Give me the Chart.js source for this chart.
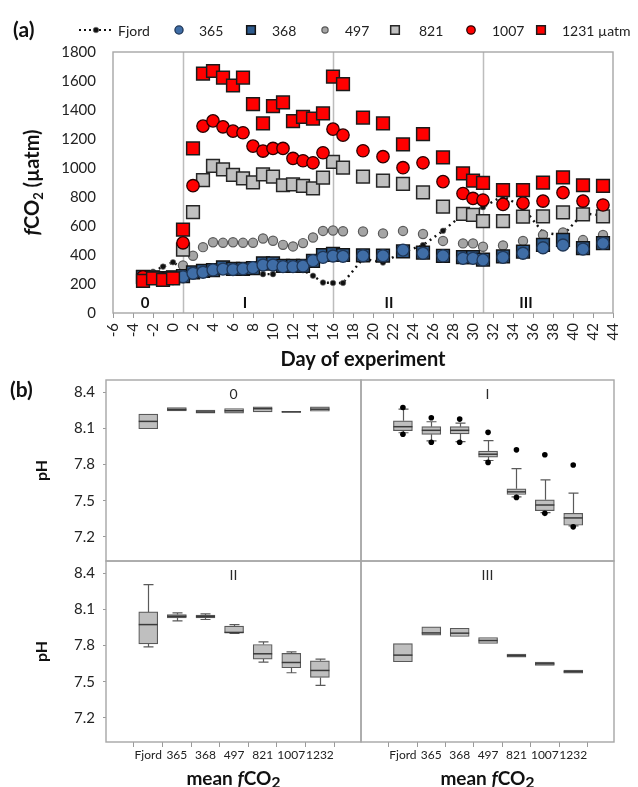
<!DOCTYPE html>
<html>
<head>
<meta charset="utf-8">
<script src="https://cdn.jsdelivr.net/npm/chart.js@4.4.1/dist/chart.umd.min.js"></script>
<style>
  html, body { margin: 0; padding: 0; background: #fff; }
  #wrap { position: relative; width: 638px; height: 787px; overflow: hidden; }
  canvas { position: absolute; }
</style>
</head>
<body>
<div id="wrap">
  <canvas id="box-0" width="371" height="201" style="left:0;top:370px"></canvas>
  <canvas id="box-1" width="273" height="201" style="left:351px;top:370px"></canvas>
  <canvas id="box-2" width="371" height="236" style="left:0;top:551px"></canvas>
  <canvas id="box-3" width="273" height="236" style="left:351px;top:551px"></canvas>
  <canvas id="chart-a" width="638" height="380" style="left:0;top:0"></canvas>
</div>
<script>
// ---- panel (a): fCO2 over time ----
const days = [-3,-2,-1,0,1,2,3,4,5,6,7,8,9,10,11,12,13,14,15,16,17,19,21,23,25,27,29,30,31,33,35,37,39,41,43];
const fco2_365  = [245,240,235,240, 250,274,281,297,303,300,305,313,331,331,320,320,324,361,384,393,391, 395,395,434,412,394,377,377,366,384,412,450,469,441,481];
const fco2_368  = [250,245,240,245, 255,280,290,295,315,305,305,310,343,343,325,325,325,360,400,407,400, 398,395,425,417,394,385,385,368,390,424,470,505,447,482];
const fco2_497  = [255,265,250,245, 328,395,454,488,484,488,484,484,514,498,470,459,482,521,566,569,564, 562,549,566,545,497,480,480,457,466,497,538,556,503,538];
const fco2_821  = [248,242,238,242, 437,695,917,1014,991,952,929,901,956,940,881,887,876,860,933,1043,1002, 940,913,890,832,733,683,676,634,634,664,667,694,680,667];
const fco2_1007 = [250,240,235,238, 484,878,1289,1325,1284,1254,1243,1151,1117,1135,1135,1066,1050,1036,1105,1268,1227, 1119,1078,1002,1036,906,824,790,779,749,758,772,830,772,745];
const fco2_1231 = [221,239,228,239, 575,1135,1651,1669,1624,1569,1624,1440,1307,1426,1452,1323,1353,1341,1376,1630,1578, 1348,1307,1163,1234,1073,963,913,897,848,848,899,936,881,876];
const fjordDays = [-3,-2,-1,0,1,2,3,4,5,6,7,8,9,10,11,12,13,14,15,16,17,19,21,23,25,27,29,31,33,35,37,39,41,43];
const fjordFco2 = [245,285,320,350,305,300,300,300,305,305,310,310,268,268,320,320,295,257,210,207,207,375,348,420,468,567,680,730,807,728,555,535,688,672];

const legendLabels = ['Fjord', '365', '368', '497', '821', '1007', '1231 µatm'];
const phaseStarts = [1, 16, 31];
const phaseNames = ['0', 'I', 'II', 'III'];
const phaseNameDays = [-2.8, 7.2, 21.6, 35.3];

// ---- panel (b): pH box plots, rows = [min, q1, median, q3, max] ----
const pHCategories = ['Fjord', '365', '368', '497', '821', '1007', '1232'];
const pHTicks = [7.2, 7.5, 7.8, 8.1, 8.4];
const pH_0 = [
  [8.096, 8.096, 8.157, 8.217, 8.217], [8.244, 8.244, 8.255, 8.272, 8.272], [8.225, 8.225, 8.235, 8.250, 8.250],
  [8.225, 8.225, 8.245, 8.264, 8.264], [8.236, 8.236, 8.262, 8.277, 8.277], [8.232, 8.232, 8.236, 8.240, 8.240],
  [8.241, 8.241, 8.258, 8.277, 8.277]
];
const pH_I = [
  [8.063, 8.080, 8.113, 8.162, 8.258], [7.995, 8.050, 8.083, 8.113, 8.154], [7.990, 8.053, 8.083, 8.113, 8.143],
  [7.833, 7.861, 7.885, 7.910, 7.998], [7.532, 7.551, 7.573, 7.598, 7.765], [7.401, 7.417, 7.464, 7.507, 7.672],
  [7.291, 7.296, 7.357, 7.395, 7.562]
];
const pH_I_out = [[8.272, 8.050], [8.187, 7.984], [8.176, 7.984], [8.066, 7.817], [7.921, 7.527], [7.880, 7.395], [7.795, 7.283]];
const pH_II = [
  [7.789, 7.813, 7.973, 8.078, 8.304], [8.004, 8.028, 8.042, 8.056, 8.070], [8.015, 8.028, 8.040, 8.051, 8.062],
  [7.899, 7.905, 7.908, 7.960, 7.973], [7.662, 7.687, 7.731, 7.808, 7.830], [7.574, 7.615, 7.659, 7.734, 7.747],
  [7.469, 7.535, 7.593, 7.673, 7.687]
];
const pH_III = [
  [7.665, 7.665, 7.720, 7.816, 7.816], [7.885, 7.885, 7.904, 7.954, 7.954], [7.874, 7.874, 7.902, 7.943, 7.943],
  [7.816, 7.816, 7.841, 7.866, 7.866], [7.703, 7.703, 7.715, 7.728, 7.728], [7.634, 7.634, 7.648, 7.662, 7.662],
  [7.571, 7.571, 7.583, 7.596, 7.596]
];

const FONT = 'Lato';
const toXY = (xs, ys) => xs.map((x, i) => ({ x: x, y: ys[i] }));

// draw a line of mixed-font text centred on (cx, cy), optionally rotated
function drawRich(ctx, parts, cx, cy, rotate, base) {
  ctx.save();
  ctx.translate(cx, cy);
  if (rotate) ctx.rotate(-Math.PI / 2);
  ctx.textAlign = 'left';
  ctx.textBaseline = 'alphabetic';
  let total = 0;
  parts.forEach(p => { ctx.font = p.font; p.w = ctx.measureText(p.text).width; total += p.w; });
  let x = -total / 2;
  parts.forEach(p => { ctx.font = p.font; ctx.fillText(p.text, x, base + (p.dy || 0)); x += p.w; });
  ctx.restore();
}

function drawMarker(ctx, ds, x, y, scale) {
  const r = ds.pointRadius * scale;
  ctx.fillStyle = ds.pointBackgroundColor;
  ctx.strokeStyle = ds.pointBorderColor;
  ctx.lineWidth = ds.pointBorderWidth;
  ctx.beginPath();
  if (ds.pointStyle === 'rect') {
    const s = r * Math.SQRT1_2;
    ctx.rect(x - s, y - s, 2 * s, 2 * s);
  } else {
    ctx.arc(x, y, r, 0, Math.PI * 2);
  }
  ctx.fill();
  if (ds.pointBorderWidth) ctx.stroke();
}

// keep Chart.js from shrinking the plot area for overhanging tick labels
function fixSize(s, w, h) {
  if (w !== null) s.width = w;
  if (h !== null) s.height = h;
  s.paddingTop = 0; s.paddingBottom = 0; s.paddingLeft = 0; s.paddingRight = 0;
}

const frame = {
  id: 'frame',
  afterDraw(chart, args, o) {
    const { ctx, chartArea: a } = chart;
    ctx.save();
    ctx.strokeStyle = o.color || '#A6A6A6';
    ctx.lineWidth = 1.4;
    ctx.strokeRect(a.left, a.top, a.right - a.left, a.bottom - a.top);
    ctx.restore();
  }
};

const panelA = {
  id: 'panelA',
  beforeDatasetsDraw(chart) {
    const { ctx, chartArea: a, scales: { x, y } } = chart;
    ctx.save();
    ctx.strokeStyle = '#BDBDBD';
    ctx.lineWidth = 1.5;
    phaseStarts.forEach(d => {
      const px = Math.round(x.getPixelForValue(d)) + 0.5;
      ctx.beginPath(); ctx.moveTo(px, a.top); ctx.lineTo(px, a.bottom); ctx.stroke();
    });
    ctx.fillStyle = '#111';
    ctx.font = 'bold 15px ' + FONT;
    ctx.textAlign = 'center';
    ctx.textBaseline = 'middle';
    phaseNames.forEach((t, i) => ctx.fillText(t, x.getPixelForValue(phaseNameDays[i]), y.getPixelForValue(69)));
    ctx.restore();
  },
  afterDraw(chart) {
    const { ctx, chartArea: a } = chart;
    ctx.save();
    ctx.fillStyle = '#111';
    ctx.font = 'bold 21px ' + FONT;
    ctx.textBaseline = 'middle';
    ctx.fillText('(a)', 13, 30);

    // legend
    const markerX = [96, 179, 251, 325, 395, 471, 541];
    const textX = [118, 199, 272, 345, 419, 492, 562];
    const ly = 30;
    chart.data.datasets.forEach((ds, i) => {
      if (ds.showLine) {
        ctx.save();
        ctx.strokeStyle = '#111';
        ctx.lineWidth = 2.2;
        ctx.setLineDash([2, 3]);
        ctx.beginPath(); ctx.moveTo(markerX[i] - 17, ly); ctx.lineTo(markerX[i] + 17, ly); ctx.stroke();
        ctx.restore();
        drawMarker(ctx, ds, markerX[i], ly, 1);
      } else {
        drawMarker(ctx, ds, markerX[i], ly, 0.68);
      }
      ctx.fillStyle = '#222';
      ctx.font = '14px ' + FONT;
      ctx.textAlign = 'left';
      ctx.fillText(legendLabels[i], textX[i], ly + 1);
    });

    // y title: fCO2 (µatm)
    ctx.fillStyle = '#111';
    drawRich(ctx, [
      { text: 'f', font: 'italic bold 20px ' + FONT },
      { text: 'CO', font: 'bold 20px ' + FONT },
      { text: '2', font: 'bold 13px ' + FONT, dy: 4 },
      { text: ' (µatm)', font: 'bold 20px ' + FONT }
    ], 32, (a.top + a.bottom) / 2, true, 7);
    ctx.restore();
  }
};

const series = [
  { data: toXY(fjordDays, fjordFco2), showLine: true, borderColor: '#111', borderWidth: 2.4, borderDash: [2, 4],
    pointStyle: 'circle', pointRadius: 2.8, pointBackgroundColor: '#111', pointBorderColor: '#777', pointBorderWidth: 0.6, order: 7 },
  { data: toXY(days, fco2_365), pointStyle: 'circle', pointRadius: 6, pointBackgroundColor: '#3F6DA6', pointBorderColor: '#1F3656', pointBorderWidth: 1.3, order: 3 },
  { data: toXY(days, fco2_368), pointStyle: 'rect', pointRadius: 9, pointBackgroundColor: '#2E5B8E', pointBorderColor: '#141414', pointBorderWidth: 1.5, order: 4 },
  { data: toXY(days, fco2_497), pointStyle: 'circle', pointRadius: 4.6, pointBackgroundColor: '#A5A5A5', pointBorderColor: '#5A5A5A', pointBorderWidth: 1.2, order: 6 },
  { data: toXY(days, fco2_821), pointStyle: 'rect', pointRadius: 9, pointBackgroundColor: '#C0C0C0', pointBorderColor: '#262626', pointBorderWidth: 1.5, order: 5 },
  { data: toXY(days, fco2_1007), pointStyle: 'circle', pointRadius: 6.2, pointBackgroundColor: '#FF0000', pointBorderColor: '#2A0000', pointBorderWidth: 1.3, order: 2 },
  { data: toXY(days, fco2_1231), pointStyle: 'rect', pointRadius: 9, pointBackgroundColor: '#FF0000', pointBorderColor: '#1A1A1A', pointBorderWidth: 1.5, order: 1 }
];

new Chart(document.getElementById('chart-a'), {
  type: 'scatter',
  data: { datasets: series.map(s => Object.assign({ showLine: false }, s)) },
  options: {
    responsive: false,
    animation: false,
    layout: { padding: { top: 52, right: 25, left: 0, bottom: 0 } },
    plugins: { legend: { display: false }, tooltip: { enabled: false }, frame: { color: '#A6A6A6' } },
    scales: {
      x: {
        type: 'linear', min: -6, max: 44,
        ticks: { stepSize: 2, minRotation: 90, maxRotation: 90, autoSkip: false, padding: 5,
                 font: { family: FONT, size: 15 }, color: '#222', callback: v => String(v) },
        grid: { drawOnChartArea: false, tickLength: 5, color: '#9A9A9A' },
        border: { display: false },
        title: { display: true, text: 'Day of experiment', color: '#111',
                 font: { family: FONT, size: 20, weight: 'bold' }, padding: { top: 0, bottom: 8 } },
        afterFit: s => fixSize(s, null, 67)
      },
      y: {
        min: 0, max: 1800,
        ticks: { stepSize: 200, padding: 17, font: { family: FONT, size: 15 }, color: '#222', callback: v => String(v) },
        grid: { drawOnChartArea: false, drawTicks: false },
        border: { display: false },
        afterFit: s => fixSize(s, 113, null)
      }
    }
  },
  plugins: [panelA, frame]
});

// ---- panel (b) ----
const boxExtras = {
  id: 'boxExtras',
  beforeDatasetsDraw(chart, args, o) {
    const { ctx, scales: { x, y } } = chart;
    ctx.save();
    ctx.strokeStyle = '#5A5A5A';
    ctx.lineWidth = 1.2;
    o.rows.forEach((r, i) => {
      const px = Math.round(x.getPixelForValue(i)) + 0.5;
      [[r[3], r[4]], [r[1], r[0]]].forEach(([from, to]) => {
        if (to === from) return;
        const y0 = y.getPixelForValue(from), y1 = y.getPixelForValue(to);
        ctx.beginPath();
        ctx.moveTo(px, y0); ctx.lineTo(px, y1);
        ctx.moveTo(px - 5, y1); ctx.lineTo(px + 5, y1);
        ctx.stroke();
      });
    });
    ctx.restore();
  },
  afterDatasetsDraw(chart, args, o) {
    const { ctx, scales: { x, y } } = chart;
    ctx.save();
    ctx.strokeStyle = '#3A3A3A';
    ctx.lineWidth = 1.5;
    o.rows.forEach((r, i) => {
      const px = x.getPixelForValue(i);
      const py = y.getPixelForValue(r[2]);
      ctx.beginPath(); ctx.moveTo(px - 9.5, py); ctx.lineTo(px + 9.5, py); ctx.stroke();
    });
    ctx.restore();
  },
  afterDraw(chart, args, o) {
    const { ctx, chartArea: a } = chart;
    ctx.save();
    ctx.fillStyle = '#2A2A2A';
    ctx.font = '14px ' + FONT;
    ctx.textAlign = 'center';
    ctx.textBaseline = 'middle';
    ctx.fillText(o.label, (a.left + a.right) / 2, a.top + 14);
    ctx.fillStyle = '#111';
    if (o.tag) {
      ctx.font = 'bold 21px ' + FONT;
      ctx.textAlign = 'left';
      ctx.fillText(o.tag, 10, a.top + 10);
    }
    if (o.yTitle) {
      drawRich(ctx, [{ text: 'pH', font: 'bold 16px ' + FONT }], 42, (a.top + a.bottom) / 2, true, 5);
    }
    if (o.xTitle) {
      drawRich(ctx, [
        { text: 'mean ', font: 'bold 19px ' + FONT },
        { text: 'f', font: 'italic bold 19px ' + FONT },
        { text: 'CO', font: 'bold 19px ' + FONT },
        { text: '2', font: 'bold 16px ' + FONT, dy: 3 }
      ], (a.left + a.right) / 2, a.bottom + 37, false, 6);
    }
    ctx.restore();
  }
};

function boxChart(id, rows, outliers, o) {
  const outPts = [];
  outliers.forEach((vals, i) => vals.forEach(v => outPts.push({ x: i, y: v })));
  return new Chart(document.getElementById(id), {
    type: 'bar',
    data: {
      datasets: [
        { type: 'bar', data: rows.map((r, i) => ({ x: i, y: [r[1], r[3]] })),
          backgroundColor: '#BFBFBF', borderColor: '#595959', borderWidth: 1.2, borderSkipped: false,
          barThickness: 19, order: 2 },
        { type: 'scatter', data: outPts, pointRadius: 2.8, pointBackgroundColor: '#000', pointBorderWidth: 0, order: 1 }
      ]
    },
    options: {
      responsive: false,
      animation: false,
      layout: { padding: o.padding },
      plugins: {
        legend: { display: false }, tooltip: { enabled: false }, frame: { color: '#A6A6A6' },
        boxExtras: { rows: rows, label: o.label, tag: o.tag, yTitle: o.showY, xTitle: o.showX }
      },
      scales: {
        x: {
          type: 'linear', min: -0.84, max: 6.8, display: o.showX,
          afterBuildTicks: s => { s.ticks = pHCategories.map((c, i) => ({ value: i })); },
          ticks: { autoSkip: false, maxRotation: 0, padding: 1, font: { family: FONT, size: 12 }, color: '#222',
                   callback: v => pHCategories[v] },
          grid: { drawOnChartArea: false, tickLength: 5, color: '#9A9A9A' },
          border: { display: false },
          afterFit: s => fixSize(s, null, o.showX ? 45 : 0)
        },
        y: {
          min: 7.0, max: 8.5, display: o.showY,
          afterBuildTicks: s => { s.ticks = pHTicks.map(v => ({ value: v })); },
          ticks: { padding: 8, font: { family: FONT, size: 15 }, color: '#222', callback: v => v.toFixed(1) },
          grid: { drawOnChartArea: false, tickLength: 3, color: '#9A9A9A' },
          border: { display: false },
          afterFit: s => fixSize(s, o.showY ? 106 : 0, null)
        }
      }
    },
    plugins: [boxExtras, frame]
  });
}

const noOut = pHCategories.map(() => []);
boxChart('box-0', pH_0, noOut, { label: '0', tag: '(b)', showY: true, showX: false, padding: { top: 10, right: 10, bottom: 10, left: 0 } });
boxChart('box-1', pH_I, pH_I_out, { label: 'I', showY: false, showX: false, padding: { top: 10, right: 10, bottom: 10, left: 10 } });
boxChart('box-2', pH_II, noOut, { label: 'II', showY: true, showX: true, padding: { top: 10, right: 10, bottom: 0, left: 0 } });
boxChart('box-3', pH_III, noOut, { label: 'III', showY: false, showX: true, padding: { top: 10, right: 10, bottom: 0, left: 10 } });
</script>
</body>
</html>
